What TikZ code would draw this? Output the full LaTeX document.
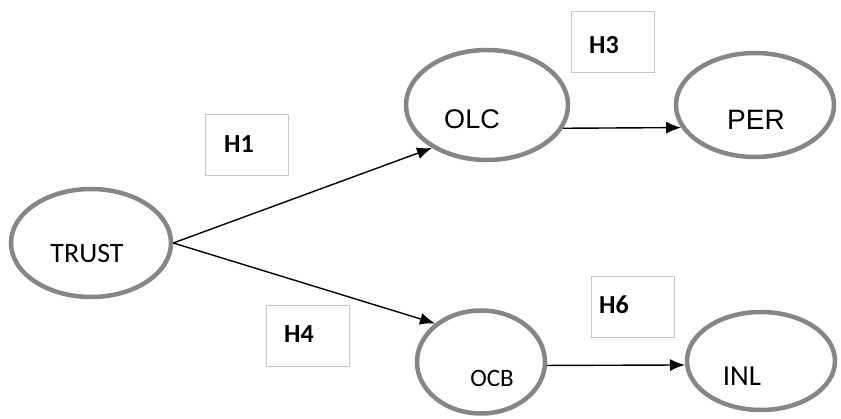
\documentclass[tikz,border=0pt]{standalone}
\usepackage{fontspec}
\setmainfont{Carlito}
\newfontfamily\arialfont{Liberation Sans}
\usetikzlibrary{shapes.geometric,arrows.meta}

\tikzset{
  construct/.style={ellipse, draw=gray!95, line width=4.5pt, fill=white},
  hypbox/.style={rectangle, draw=gray!45, line width=1pt, minimum width=83pt, minimum height=61pt},
  hyplabel/.style={font=\fontsize{26}{26}\selectfont\bfseries},
  path/.style={-{Latex[length=15pt,width=12pt]}, line width=1.4pt},
}

\begin{document}
\begin{tikzpicture}[x=1pt,y=-1pt]
			\useasboundingbox (0,0) rectangle (841,419);
			
			% constructs
			\node[construct, minimum width=160pt, minimum height=108pt] (trust) at (91,243) {};
			\node[construct, minimum width=162pt, minimum height=110pt] (olc) at (487,105) {};
			\node[construct, minimum width=158pt, minimum height=104pt] (per) at (755,105) {};
			\node[construct, minimum width=128pt, minimum height=103pt] (ocb) at (481,362) {};
			\node[construct, minimum width=148pt, minimum height=98pt] (inl) at (761,361) {};
			
			\node[font=\fontsize{28}{28}\selectfont] (ttrust) at (87,254) {TRUST};
			\node[font=\arialfont\fontsize{27}{27}\selectfont] (tolc) at (472,119) {OLC};
			\node[font=\arialfont\fontsize{28}{28}\selectfont] (tper) at (756,120) {PER};
			\node[font=\fontsize{25}{25}\selectfont] (tocb) at (492,378) {OCB};
			\node[font=\fontsize{29}{29}\selectfont] (tinl) at (742,376) {INL};
			
			% hypotheses
			\node[hypbox] (h1) at (247,145) {};
			\node[hypbox] (h3) at (613,42) {};
			\node[hypbox] (h4) at (308,336) {};
			\node[hypbox] (h6) at (633,307) {};
			\node[hyplabel] at (239,144) {H1};
			\node[hyplabel] at (604,45) {H3};
			\node[hyplabel] at (299,334) {H4};
			\node[hyplabel] at (614,305) {H6};
			
			% paths
			\draw[path] (trust.east) -- (olc.218);
			\draw[path] (trust.east) -- (ocb.140);
			\draw[path] (olc.-17) -- (per.197);
			\draw[path] (ocb.-3) -- (inl.183);
		  \end{tikzpicture}
\end{document}
